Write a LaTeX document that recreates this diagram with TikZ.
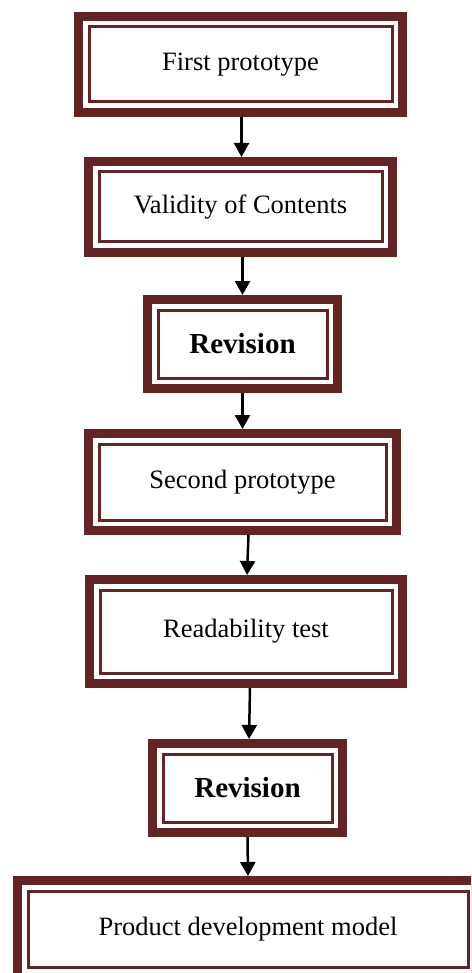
\documentclass[tikz,border=0pt]{standalone}
\usepackage{fontspec}
\setmainfont{Liberation Serif}
\usetikzlibrary{arrows.meta}
\definecolor{framered}{HTML}{632423}

\begin{document}
\begin{tikzpicture}[x=1pt, y=-1pt,
  stage/.style={rectangle, fill=white, draw=framered, line width=3pt,
    preaction={draw=framered, line width=30pt},
    preaction={draw=white, line width=12pt},
    inner sep=0pt, outer sep=15pt, font=\fontsize{26.5}{30}\selectfont},
  revise/.style={stage, font=\fontsize{29}{33}\selectfont\bfseries},
  flow/.style={-{Triangle[width=15pt, length=14pt]}, line width=2.5pt, black}]
\useasboundingbox (0,0) rectangle (471,973);
\clip (0,0) rectangle (471,973);

\node[stage, minimum width=303pt, minimum height=75pt] at (240.5,64.5) (proto1) {First prototype};
\node[stage, minimum width=283pt, minimum height=70pt] at (240.5,207) (validity) {Validity of Contents};
\node[revise, minimum width=169pt, minimum height=68pt] at (242.5,344) (revise1) {Revision};
\node[stage, minimum width=287pt, minimum height=76pt] at (242.5,482) (proto2) {Second prototype};
\node[stage, minimum width=292pt, minimum height=83pt] at (246,631.5) (readtest) {Readability test};
\node[revise, minimum width=169pt, minimum height=68pt] at (247.5,788) (revise2) {Revision};
\node[stage, minimum width=440pt, minimum height=76pt] at (248,929) (model) {Product development model};

\draw[flow] ([xshift=1pt]proto1.south) -- ([xshift=1pt]validity.north);
\draw[flow] ([xshift=2pt]validity.south) -- (revise1.north);
\draw[flow] (revise1.south) -- (proto2.north);
\draw[flow] ([xshift=6pt]proto2.south) -- ([xshift=1pt]readtest.north);
\draw[flow] ([xshift=4pt]readtest.south) -- ([xshift=1.5pt]revise2.north);
\draw[flow] (revise2.south) -- (model.north);

\end{tikzpicture}
\end{document}
